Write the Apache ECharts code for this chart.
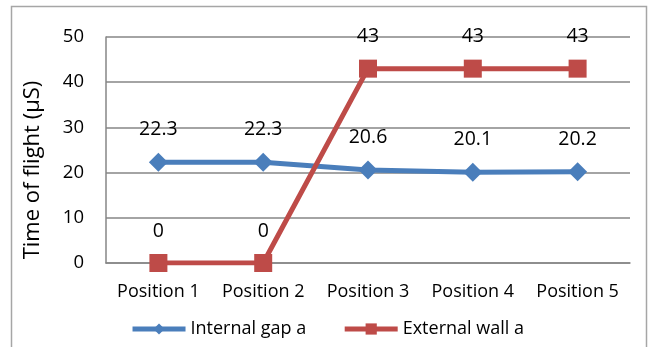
<!DOCTYPE html>
<html>
<head>
<meta charset="utf-8">
<script src="https://cdn.jsdelivr.net/npm/echarts@6/dist/echarts.min.js"></script>
<style>
html,body{margin:0;padding:0;background:#fff;}
#chart{width:654px;height:347px;}
</style>
</head>
<body>
<div id="chart"></div>
<script>
// Time-of-flight readings at five probe positions
const categories = ['Position 1', 'Position 2', 'Position 3', 'Position 4', 'Position 5'];
const internalGap = [22.3, 22.3, 20.6, 20.1, 20.2];
const externalWall = [0, 0, 43, 43, 43];
const yTicks = [0, 10, 20, 30, 40, 50];
const yAxisTitle = 'Time of flight (\u00b5S)';

const FONT = '"Open Sans", "Noto Sans", sans-serif';
const chart = echarts.init(document.getElementById('chart'));

chart.setOption({
  animation: false,
  backgroundColor: '#fff',
  textStyle: { fontFamily: FONT },
  graphic: [
    {
      type: 'rect',
      shape: { x: 11.5, y: 6.5, width: 635, height: 360 },
      style: { fill: 'none', stroke: '#a6a6a6', lineWidth: 1.5 },
      silent: true
    },
    {
      // vertical axis title, centred on the whole chart area
      type: 'text',
      x: 33,
      y: 170,
      rotation: Math.PI / 2,
      style: {
        text: yAxisTitle,
        fontSize: 22,
        fontFamily: FONT,
        fill: '#000',
        align: 'center',
        verticalAlign: 'middle'
      },
      silent: true
    }
  ],
  grid: { left: 106, right: 24, top: 37, bottom: 84 },
  legend: {
    bottom: 4,
    left: 'center',
    itemWidth: 53,
    itemHeight: 14,
    itemGap: 36,
    textStyle: { fontSize: 18, color: '#000', fontFamily: FONT },
    lineStyle: { width: 5 },
    data: ['Internal gap a', 'External wall a']
  },
  xAxis: {
    type: 'category',
    data: categories,
    boundaryGap: true,
    axisLine: { lineStyle: { color: '#868686', width: 1.5 } },
    axisTick: { show: false },
    axisLabel: { interval: 0, fontSize: 18, color: '#000', margin: 20, fontFamily: FONT }
  },
  yAxis: {
    type: 'value',
    min: yTicks[0],
    max: yTicks[yTicks.length - 1],
    interval: 10,
    axisLine: { show: true, lineStyle: { color: '#868686', width: 1.5 } },
    axisTick: { show: false },
    axisLabel: { fontSize: 18.5, color: '#000', margin: 22, fontFamily: FONT },
    splitLine: { lineStyle: { color: '#868686', width: 1.5 } }
  },
  series: [
    {
      name: 'Internal gap a',
      type: 'line',
      data: internalGap,
      symbol: 'diamond',
      symbolSize: 19,
      lineStyle: { color: '#4a7ebb', width: 5 },
      itemStyle: { color: '#4a7ebb' },
      label: { show: true, position: 'top', distance: 13, fontSize: 19.5, color: '#000', fontFamily: FONT }
    },
    {
      name: 'External wall a',
      type: 'line',
      data: externalWall,
      symbol: 'rect',
      symbolSize: 18,
      lineStyle: { color: '#be4b48', width: 5 },
      itemStyle: { color: '#be4b48' },
      label: { show: true, position: 'top', distance: 13, fontSize: 19.5, color: '#000', fontFamily: FONT }
    }
  ]
});
</script>
</body>
</html>
